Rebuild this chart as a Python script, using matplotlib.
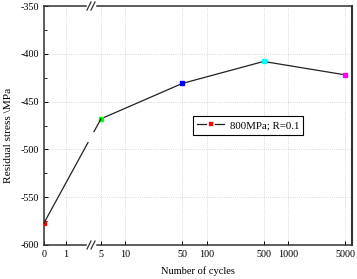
import matplotlib
matplotlib.use('Agg')
import matplotlib.pyplot as plt
from matplotlib.lines import Line2D
from matplotlib.ticker import MultipleLocator, FixedLocator, NullLocator

plt.rcParams['font.family'] = ['Liberation Serif', 'DejaVu Serif']
plt.rcParams['axes.unicode_minus'] = False

cycles = [0, 5, 50, 500, 5000]
stress = [-577, -468, -431, -408, -422]
colors = ['red', 'lime', 'blue', 'cyan', 'magenta']
left_ticks = [0, 1]
right_ticks = [5, 10, 50, 100, 500, 1000, 5000]

W, H = 357, 279
fig = plt.figure(figsize=(W / 100, H / 100), dpi=100)
x0, xb, x1 = 44, 91, 352
y0, y1 = 245, 6
axl = fig.add_axes([x0 / W, 1 - y0 / H, (xb - x0) / W, (y0 - y1) / H])
axr = fig.add_axes([xb / W, 1 - y0 / H, (x1 - xb) / W, (y0 - y1) / H], sharey=axl)

spine_c = '#333333'
for ax in (axl, axr):
    ax.set_ylim(-600, -350)
    ax.grid(True, color='#cccccc', linestyle=':', linewidth=0.6)
    ax.tick_params(direction='in', labelsize=7.3, length=3, width=0.7, colors='black')
    ax.tick_params(which='minor', direction='in', length=1.8, width=0.6)
    for s in ax.spines.values():
        s.set_color(spine_c)
        s.set_linewidth(1.1)

axl.spines['right'].set_visible(False)
axr.spines['left'].set_visible(False)
axr.spines['right'].set_linewidth(1.5)
axr.tick_params(axis='y', which='both', left=False, labelleft=False)

axl.set_xlim(0, 2.14)
axl.xaxis.set_major_locator(FixedLocator(left_ticks))
axl.set_xticklabels([str(t) for t in left_ticks])
axl.yaxis.set_major_locator(MultipleLocator(50))
axl.yaxis.set_minor_locator(MultipleLocator(25))

axr.set_xscale('log')
axr.set_xlim(3.77, 6100)
axr.xaxis.set_major_locator(FixedLocator(right_ticks))
axr.xaxis.set_minor_locator(NullLocator())
axr.set_xticklabels([str(t) for t in right_ticks])

# line on the log part
axr.plot(cycles[1:], stress[1:], color='#222222', linewidth=0.9, zorder=3)
for c, s, col in zip(cycles, stress, colors):
    ax = axl if c < 3 else axr
    ax.plot([c], [s], marker='s', markersize=3.2, color=col, linestyle='none',
            zorder=4, clip_on=(c == 0))

# connecting segment across the break, in figure coordinates
p0 = axl.transData.transform((cycles[0], stress[0]))
p1 = axr.transData.transform((cycles[1], stress[1]))
inv = fig.transFigure.inverted()
gap = 3
bx = axr.transAxes.transform((0, 0))[0]
def at_x(px):
    t = (px - p0[0]) / (p1[0] - p0[0])
    return (px, p0[1] + t * (p1[1] - p0[1]))
for a, b in [(p0, at_x(bx - gap)), (at_x(bx + gap), p1)]:
    fa, fb = inv.transform(a), inv.transform(b)
    fig.add_artist(Line2D([fa[0], fb[0]], [fa[1], fb[1]], color='#222222',
                          linewidth=0.9, zorder=3))

# break marks
fbx = inv.transform((bx, 0))[0]
for yf in (1 - y0 / H, 1 - y1 / H):
    fig.add_artist(Line2D([fbx - 3 / W, fbx + 3 / W], [yf, yf], color='white',
                          linewidth=2.5, zorder=5))
    for dx in (-2, 2):
        xs = fbx + dx / W
        fig.add_artist(Line2D([xs - 2 / W, xs + 2 / W], [yf - 4 / H, yf + 4 / H],
                              color=spine_c, linewidth=0.9, zorder=6))

fig.text(9 / W, 1 - 135 / H, 'Residual stress \\MPa', rotation=90, ha='center',
         va='center', fontsize=8.2)
fig.text((x0 + x1) / 2 / W, 1 - 271 / H, 'Number of cycles', ha='center',
         va='center', fontsize=7.5)

handle = Line2D([], [], color='#222222', linewidth=0.9, marker='s',
                markersize=4.6, markerfacecolor='red', markeredgecolor='white',
                markeredgewidth=1.2)
leg = fig.legend([handle], ['800MPa; R=0.1'], loc='center',
                 bbox_to_anchor=(248 / W, 1 - 125.5 / H), fontsize=7.8,
                 fancybox=False, edgecolor='black', framealpha=1,
                 handlelength=2.5, handletextpad=0.5, borderpad=0.4)
leg.get_frame().set_linewidth(0.8)

fig.savefig('out.png', dpi=100)
